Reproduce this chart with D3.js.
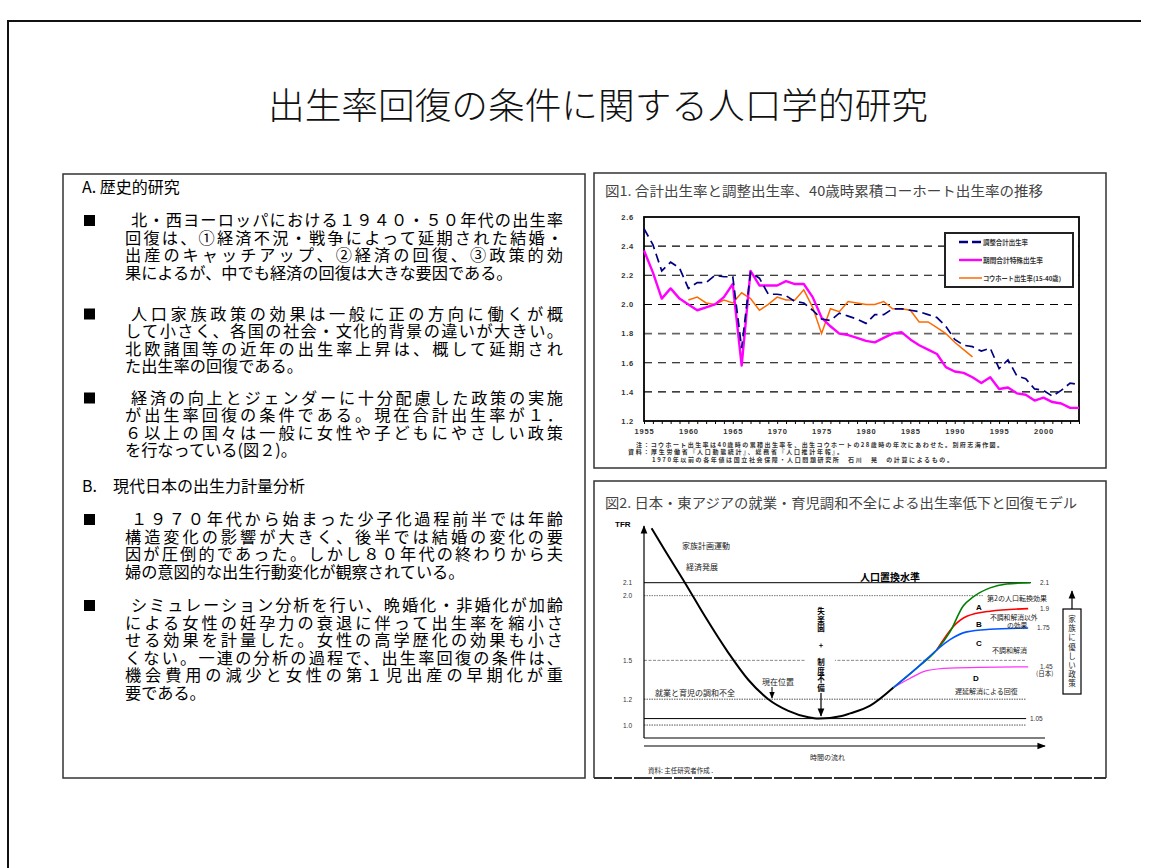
<!DOCTYPE html>
<html>
<head>
<meta charset="utf-8">
<script src="https://cdn.jsdelivr.net/npm/d3@7"></script>
<style>
  body { margin: 0; background: #fff; }
  svg { display: block; font-family: "Noto Sans CJK JP", "Noto Sans", sans-serif; }
</style>
</head>
<body>
<svg id="slide" width="1156" height="868"></svg>
<script>
// ---- Fig.1 data (Japan, 1955-2004) ----
const years = d3.range(1955, 2005);
const periodTFR = [2.37,2.22,2.04,2.11,2.04,2.00,1.96,1.98,2.00,2.05,
                   2.14,1.58,2.23,2.13,2.13,2.13,2.16,2.14,2.14,2.05,
                   1.91,1.85,1.80,1.79,1.77,1.75,1.74,1.77,1.80,1.81,
                   1.76,1.72,1.69,1.66,1.57,1.54,1.53,1.50,1.46,1.50,
                   1.42,1.43,1.39,1.38,1.34,1.36,1.33,1.32,1.29,1.29];
const adjustedTFR = [2.52,2.41,2.23,2.29,2.25,2.11,2.15,2.15,2.20,2.19,
                     2.19,1.70,2.22,2.18,2.07,2.07,2.06,2.02,2.01,1.96,
                     1.90,1.89,1.94,1.92,1.90,1.87,1.93,1.93,1.97,1.97,
                     1.96,1.95,1.93,1.91,1.85,1.76,1.72,1.71,1.68,1.70,
                     1.56,1.62,1.51,1.49,1.42,1.41,1.37,1.41,1.46,1.45];
const cohortYears = d3.range(1960, 1993);
const cohortTFR = [2.03,2.05,2.01,2.00,2.03,2.01,2.08,2.04,1.96,2.00,
                   2.05,2.03,2.03,2.10,1.98,1.80,1.97,1.95,2.02,2.01,
                   2.00,2.00,2.02,1.97,1.97,1.96,1.88,1.88,1.84,1.80,
                   1.74,1.69,1.64];
const fig1YTicks = [1.2,1.4,1.6,1.8,2.0,2.2,2.4,2.6];
const fig1Legend = ['調整合計出生率','期間合計特殊出生率','コウホート出生率(15-40歳)'];

// ---- Fig.2 model curves: [time, TFR] ----
const baseCurve = [[1.9,2.52],[5.2,2.35],[10.2,2.10],[15.2,1.84],[21.0,1.56],[26.0,1.35],
                   [31.0,1.20],[36.0,1.11],[41.0,1.06],[43.5,1.05],[49.3,1.07],[51.4,1.09],
                   [56.4,1.15],[62.2,1.29]];
const curveA = [[62.2,1.29],[68.0,1.44],[73.0,1.58],[76.3,1.72],[79.6,1.92],[82.1,1.99],
                [86.3,2.06],[90.4,2.09],[96.3,2.10]];
const curveB = [[73.0,1.58],[77.1,1.76],[80.5,1.84],[86.3,1.88],[95.8,1.90]];
const curveC = [[62.2,1.29],[68.0,1.44],[73.0,1.58],[76.3,1.66],[80.5,1.72],[86.3,1.74],[95.8,1.75]];
const curveD = [[62.2,1.29],[66.3,1.36],[70.5,1.42],[76.3,1.44],[95.8,1.45]];
const fig2Levels = [2.1, 2.0, 1.5, 1.2, 1.05, 1.0];
const fig2TickLabels = ['2.1','2.0','1.5','1.2','1.0'];
const fig2EndLabels = [['2.1',2.1],['1.9',1.9],['1.75',1.75],['1.45',1.45],['1.05',1.05]];

// ---- left column text ----
const paragraphs = [
  {y: 220, lines: ['北・西ヨーロッパにおける１９４０・５０年代の出生率','回復は、①経済不況・戦争によって延期された結婚・','出産のキャッチアップ、②経済の回復、③政策的効','果によるが、中でも経済の回復は大きな要因である。']},
  {y: 313.5, lines: ['人口家族政策の効果は一般に正の方向に働くが概','して小さく、各国の社会・文化的背景の違いが大きい。','北欧諸国等の近年の出生率上昇は、概して延期され','た出生率の回復である。']},
  {y: 397.5, lines: ['経済の向上とジェンダーに十分配慮した政策の実施','が出生率回復の条件である。現在合計出生率が１．','６以上の国々は一般に女性や子どもにやさしい政策','を行なっている(図２)。']},
  {y: 519, lines: ['１９７０年代から始まった少子化過程前半では年齢','構造変化の影響が大きく、後半では結婚の変化の要','因が圧倒的であった。しかし８０年代の終わりから夫','婦の意図的な出生行動変化が観察されている。']},
  {y: 605, lines: ['シミュレーション分析を行い、晩婚化・非婚化が加齢','による女性の妊孕力の衰退に伴って出生率を縮小さ','せる効果を計量した。女性の高学歴化の効果も小さ','くない。一連の分析の過程で、出生率回復の条件は、','機会費用の減少と女性の第１児出産の早期化が重','要である。']}
];

const svg = d3.select('#slide');
svg.append('rect').attr('width', 1156).attr('height', 868).attr('fill', '#fff');

// slide frame (top + left edges visible)
svg.append('path').attr('d', 'M8,868 V21 H1141').attr('fill', 'none').attr('stroke', '#111').attr('stroke-width', 2);

svg.append('text').attr('x', 598).attr('y', 119).attr('text-anchor', 'middle')
  .attr('font-size', 36).attr('font-weight', 300).attr('textLength', 660).attr('lengthAdjust', 'spacingAndGlyphs')
  .attr('fill', '#111').text('出生率回復の条件に関する人口学的研究');

// ---- left box ----
svg.append('rect').attr('x', 63).attr('y', 174).attr('width', 522).attr('height', 604)
  .attr('fill', 'none').attr('stroke', '#333').attr('stroke-width', 1.5);

const left = svg.append('g').attr('font-size', 16.2).attr('fill', '#000');
left.append('text').attr('x', 82).attr('y', 193).attr('font-size', 16).text('A. 歴史的研究');
left.append('text').attr('x', 82).attr('y', 491.5).attr('font-size', 16).text('B.　現代日本の出生力計量分析');

paragraphs.forEach(p => {
  left.append('rect').attr('x', 84).attr('y', p.y - 5).attr('width', 11).attr('height', 11).attr('fill', '#000');
  p.lines.forEach((ln, i) => {
    const x0 = i === 0 ? 131 : 125;
    const t = left.append('text').attr('x', x0).attr('y', p.y + i * 17.5 + 6).text(ln);
    if (i < p.lines.length - 1) t.attr('textLength', 563 - x0).attr('lengthAdjust', 'spacing');
  });
});

// ---- Fig.1 ----
svg.append('rect').attr('x', 594).attr('y', 173).attr('width', 512).attr('height', 295)
  .attr('fill', 'none').attr('stroke', '#333').attr('stroke-width', 1.5);
svg.append('text').attr('x', 605).attr('y', 196).attr('font-size', 13.5).attr('fill', '#444')
  .attr('textLength', 438).attr('lengthAdjust', 'spacingAndGlyphs')
  .text('図1. 合計出生率と調整出生率、40歳時累積コーホート出生率の推移');

const x1 = d3.scaleLinear().domain([1955, 2004]).range([644, 1079]);
const y1 = d3.scaleLinear().domain([1.2, 2.6]).range([421, 217]);
const f1 = svg.append('g');

f1.selectAll('line.grid').data(fig1YTicks.slice(1, -1)).join('line')
  .attr('x1', 644).attr('x2', 1079).attr('y1', d => y1(d)).attr('y2', d => y1(d))
  .attr('stroke', d => d === 1.8 ? '#666' : '#000').attr('stroke-width', d => d === 1.8 ? 1.8 : 1.1)
  .attr('stroke-dasharray', '8,6');

const yAx1 = f1.append('g').attr('transform', 'translate(644,0)')
  .call(d3.axisLeft(y1).tickValues(fig1YTicks).tickSize(0).tickPadding(10).tickFormat(d3.format('.1f')));
yAx1.select('.domain').remove();
const xAx1 = f1.append('g').attr('transform', 'translate(0,421)')
  .call(d3.axisBottom(x1).tickValues(years).tickSize(3).tickPadding(5)
    .tickFormat(d => d % 5 === 0 ? d : ''));
xAx1.select('.domain').remove();
[yAx1, xAx1].forEach(a => a.selectAll('text').attr('font-family', 'Liberation Sans, Arial, sans-serif')
  .attr('font-size', 7.5).attr('font-weight', 'bold').attr('fill', '#333').attr('letter-spacing', 0.8));
xAx1.selectAll('line').attr('stroke', '#000');

f1.append('rect').attr('x', 644).attr('y', 217).attr('width', 435).attr('height', 204)
  .attr('fill', 'none').attr('stroke', '#000').attr('stroke-width', 1.8);

const line1 = d3.line().x(d => x1(d[0])).y(d => y1(d[1]));
f1.append('path').datum(cohortYears.map((yr, i) => [yr, cohortTFR[i]])).attr('d', line1)
  .attr('fill', 'none').attr('stroke', '#ff6a00').attr('stroke-width', 1.5);
f1.append('path').datum(years.map((yr, i) => [yr, periodTFR[i]])).attr('d', line1)
  .attr('fill', 'none').attr('stroke', '#ff00ff').attr('stroke-width', 2.4).attr('stroke-linejoin', 'round');
f1.append('path').datum(years.map((yr, i) => [yr, adjustedTFR[i]])).attr('d', line1)
  .attr('fill', 'none').attr('stroke', '#000080').attr('stroke-width', 1.7).attr('stroke-dasharray', '9,5');

// legend
const lg = f1.append('g');
lg.append('rect').attr('x', 945).attr('y', 233).attr('width', 128).attr('height', 54)
  .attr('fill', '#fff').attr('stroke', '#222').attr('stroke-width', 2);
const lgStyle = [{c: '#000080', w: 2.4, dash: '9,4', len: 45}, {c: '#ff00ff', w: 2.4, dash: null, len: 60},
                 {c: '#ff6a00', w: 1.5, dash: null, len: 78}];
fig1Legend.forEach((name, i) => {
  const yy = 242 + i * 18;
  lg.append('line').attr('x1', 959).attr('x2', 982).attr('y1', yy).attr('y2', yy)
    .attr('stroke', lgStyle[i].c).attr('stroke-width', lgStyle[i].w).attr('stroke-dasharray', lgStyle[i].dash);
  lg.append('text').attr('x', 983).attr('y', yy + 2.5).attr('font-size', 6.3).attr('font-weight', 'bold')
    .attr('fill', '#333').attr('textLength', lgStyle[i].len).attr('lengthAdjust', 'spacingAndGlyphs').text(name);
});

// notes
const notes = [
  {x: 636, y: 447, w: 367, t: '注：コウホート出生率は40歳時の累積出生率を、出生コウホートの28歳時の年次にあわせた。別府志海作図。'},
  {x: 628, y: 454, w: 215, t: '資料：厚生労働省『人口動態統計』、総務省『人口推計年報』。'},
  {x: 652, y: 461.5, w: 301, t: '1970年以前の各年値は国立社会保障・人口問題研究所　石川　晃　の計算によるもの。'}
];
notes.forEach(n => f1.append('text').attr('x', n.x).attr('y', n.y).attr('font-size', 6)
  .attr('font-weight', 'bold').attr('fill', '#333').attr('textLength', n.w).attr('lengthAdjust', 'spacing').text(n.t));

// ---- Fig.2 ----
svg.append('path').attr('d', 'M594,778 V481 H1106 V778').attr('fill', 'none').attr('stroke', '#333').attr('stroke-width', 1.5);
svg.append('line').attr('x1', 594).attr('x2', 1106).attr('y1', 778).attr('y2', 778)
  .attr('stroke', '#333').attr('stroke-width', 2).attr('stroke-dasharray', '18,2');
svg.append('text').attr('x', 605).attr('y', 508).attr('font-size', 13.5).attr('fill', '#444')
  .attr('textLength', 472).attr('lengthAdjust', 'spacingAndGlyphs')
  .text('図2. 日本・東アジアの就業・育児調和不全による出生率低下と回復モデル');

const defs = svg.append('defs');
defs.append('marker').attr('id', 'arr').attr('viewBox', '0 0 10 10').attr('refX', 9).attr('refY', 5)
  .attr('markerWidth', 7).attr('markerHeight', 7).attr('orient', 'auto-start-reverse')
  .append('path').attr('d', 'M0,1 L10,5 L0,9 z').attr('fill', '#000');

const x2 = d3.scaleLinear().domain([0, 100]).range([644, 1045]);
const y2 = d3.scaleLinear().domain([0.9, 2.1]).range([738, 582.7]);
const f2 = svg.append('g');

const levelStyle = {
  2.1: {end: 96.5, c: '#000', dash: null, w: 1},
  2.0: {end: 84.5, c: '#777', dash: '1.5,1', w: 1},
  1.5: {end: 95.3, c: '#888', dash: '3,1.5', w: 1},
  1.2: {end: 95.3, c: '#555', dash: '1.5,1', w: 1},
  1.05: {end: 95.3, c: '#000', dash: null, w: 1},
  1.0: {end: 95.3, c: '#555', dash: '1.5,1', w: 1}
};
f2.selectAll('line.level').data(fig2Levels).join('line')
  .attr('x1', x2(0)).attr('x2', d => x2(levelStyle[d].end)).attr('y1', d => y2(d)).attr('y2', d => y2(d))
  .attr('stroke', d => levelStyle[d].c).attr('stroke-width', d => levelStyle[d].w)
  .attr('stroke-dasharray', d => levelStyle[d].dash);
// gap in 1.5 line behind vertical text
f2.append('rect').attr('x', 806).attr('y', y2(1.5) - 3).attr('width', 29).attr('height', 6).attr('fill', '#fff');

// axes
f2.append('line').attr('x1', 644).attr('x2', 644).attr('y1', y2(0.9)).attr('y2', 526)
  .attr('stroke', '#000').attr('stroke-width', 1.2).attr('marker-end', 'url(#arr)');
f2.append('line').attr('x1', 644).attr('x2', x2(100)).attr('y1', y2(0.9)).attr('y2', y2(0.9))
  .attr('stroke', '#000').attr('stroke-width', 1.2);
f2.append('line').attr('x1', 644).attr('x2', x2(100)).attr('y1', 746).attr('y2', 746)
  .attr('stroke', '#000').attr('stroke-width', 1.2).attr('marker-end', 'url(#arr)');

const small = 'Liberation Sans, Arial, sans-serif';
f2.append('text').attr('x', 615).attr('y', 527).attr('font-family', small).attr('font-size', 8)
  .attr('font-weight', 'bold').text('TFR');
f2.selectAll('text.tick').data(fig2TickLabels).join('text')
  .attr('x', 623).attr('y', d => y2(+d) + 2.5).attr('font-family', small).attr('font-size', 6.5)
  .attr('fill', '#333').text(d => d);
f2.selectAll('text.end').data(fig2EndLabels).join('text')
  .attr('x', d => d[0] === '1.05' ? 1030 : (d[0] === '1.75' ? 1037 : 1040)).attr('y', d => y2(d[1]) + 2.5)
  .attr('font-family', small).attr('font-size', 6.5).attr('fill', '#333').text(d => d[0]);

// curves
const line2 = d3.line().x(d => x2(d[0])).y(d => y2(d[1])).curve(d3.curveMonotoneX);
f2.append('path').datum(baseCurve).attr('d', line2).attr('fill', 'none').attr('stroke', '#000').attr('stroke-width', 2);
f2.append('path').datum(curveD).attr('d', line2).attr('fill', 'none').attr('stroke', '#ff33ff').attr('stroke-width', 1.3);
f2.append('path').datum(curveB).attr('d', line2).attr('fill', 'none').attr('stroke', '#ff0000').attr('stroke-width', 1.6);
f2.append('path').datum(curveA).attr('d', line2).attr('fill', 'none').attr('stroke', '#008000').attr('stroke-width', 1.6);
f2.append('path').datum(curveC).attr('d', line2).attr('fill', 'none').attr('stroke', '#0055ff').attr('stroke-width', 1.6);

// annotations
const ann = [
  {x: 682, y: 549, t: '家族計画運動', s: 8},
  {x: 686, y: 570, t: '経済発展', s: 8},
  {x: 655, y: 696, t: '就業と育児の調和不全', s: 8},
  {x: 762, y: 685, t: '現在位置', s: 8},
  {x: 987, y: 601, t: '第2の人口転換効果', s: 7},
  {x: 990, y: 620, t: '不調和解消以外', s: 6.8},
  {x: 1007, y: 628, t: 'の効果', s: 6.8},
  {x: 992, y: 653, t: '不調和解消', s: 7},
  {x: 955, y: 694, t: '遅延解消による回復', s: 7},
  {x: 1036, y: 676, t: '(日本)', s: 6.5},
  {x: 648, y: 773, t: '資料: 主任研究者作成 .', s: 6.5},
  {x: 810, y: 760, t: '時間の流れ', s: 7}
];
ann.forEach(a => f2.append('text').attr('x', a.x).attr('y', a.y).attr('font-size', a.s).attr('fill', '#222').text(a.t));
f2.append('text').attr('x', 860).attr('y', 581).attr('font-size', 10).attr('font-weight', 'bold').text('人口置換水準');
[['A', 976, 610], ['B', 976, 627], ['C', 976, 646], ['D', 973, 681]].forEach(d =>
  f2.append('text').attr('x', d[1]).attr('y', d[2]).attr('font-family', small).attr('font-size', 8)
    .attr('font-weight', 'bold').text(d[0]));

// 現在位置 arrow
f2.append('line').attr('x1', 772).attr('x2', 772).attr('y1', 687).attr('y2', 698)
  .attr('stroke', '#000').attr('stroke-width', 1).attr('marker-end', 'url(#arr)');

// vertical text 失楽園 + 制度不備
const vChars = ['失','楽','園','+','制','度','不','備'];
const vY = [611, 619.5, 628, 645, 662, 670.5, 679, 687.5];
vChars.forEach((c, i) => f2.append('text').attr('x', 821).attr('y', vY[i] + 3).attr('text-anchor', 'middle')
  .attr('font-size', 7.5).attr('font-weight', 'bold').text(c));
f2.append('line').attr('x1', 821).attr('x2', 821).attr('y1', 693).attr('y2', 716)
  .attr('stroke', '#000').attr('stroke-width', 1.2).attr('marker-end', 'url(#arr)');

// 家族に優しい政策 box
f2.append('rect').attr('x', 1063).attr('y', 609).attr('width', 18).attr('height', 85)
  .attr('fill', '#fff').attr('stroke', '#000').attr('stroke-width', 1.2);
f2.append('line').attr('x1', 1072).attr('x2', 1072).attr('y1', 609).attr('y2', 591)
  .attr('stroke', '#000').attr('stroke-width', 1.2).attr('marker-end', 'url(#arr)');
'家族に優しい政策'.split('').forEach((c, i) => f2.append('text').attr('x', 1072).attr('y', 622 + i * 9.2)
  .attr('text-anchor', 'middle').attr('font-size', 7.5).attr('fill', '#222').text(c));
</script>
</body>
</html>
